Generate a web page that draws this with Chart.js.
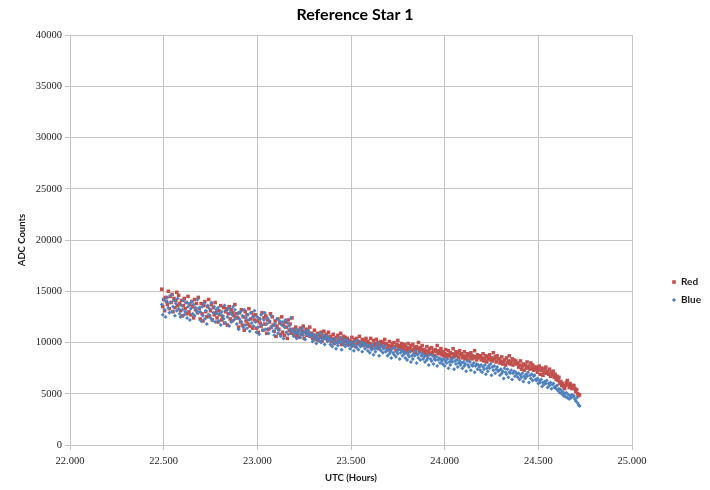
<!DOCTYPE html>
<html>
<head>
<meta charset="utf-8">
<script src="https://cdn.jsdelivr.net/npm/chart.js@4.4.1/dist/chart.umd.min.js"></script>
<style>
  html, body { margin: 0; padding: 0; background: #ffffff; }
  #wrap { width: 710px; height: 490px; position: relative; }
</style>
</head>
<body>
<div id="wrap"><canvas id="chart" width="710" height="490"></canvas></div>
<script>
// Sample times (UTC, hours), one reading every 18 s
const utcHours = [
  22.490, 22.495, 22.500, 22.505, 22.510, 22.515, 22.520, 22.525, 22.530, 22.535, 22.540, 22.545, 22.550, 22.555, 22.560, 22.565, 22.570, 22.575, 22.580, 22.585,
  22.590, 22.595, 22.600, 22.605, 22.610, 22.615, 22.620, 22.625, 22.630, 22.635, 22.640, 22.645, 22.650, 22.655, 22.660, 22.665, 22.670, 22.675, 22.680, 22.685,
  22.690, 22.695, 22.700, 22.705, 22.710, 22.715, 22.720, 22.725, 22.730, 22.735, 22.740, 22.745, 22.750, 22.755, 22.760, 22.765, 22.770, 22.775, 22.780, 22.785,
  22.790, 22.795, 22.800, 22.805, 22.810, 22.815, 22.820, 22.825, 22.830, 22.835, 22.840, 22.845, 22.850, 22.855, 22.860, 22.865, 22.870, 22.875, 22.880, 22.885,
  22.890, 22.895, 22.900, 22.905, 22.910, 22.915, 22.920, 22.925, 22.930, 22.935, 22.940, 22.945, 22.950, 22.955, 22.960, 22.965, 22.970, 22.975, 22.980, 22.985,
  22.990, 22.995, 23.000, 23.005, 23.010, 23.015, 23.020, 23.025, 23.030, 23.035, 23.040, 23.045, 23.050, 23.055, 23.060, 23.065, 23.070, 23.075, 23.080, 23.085,
  23.090, 23.095, 23.100, 23.105, 23.110, 23.115, 23.120, 23.125, 23.130, 23.135, 23.140, 23.145, 23.150, 23.155, 23.160, 23.165, 23.170, 23.175, 23.180, 23.185,
  23.190, 23.195, 23.200, 23.205, 23.210, 23.215, 23.220, 23.225, 23.230, 23.235, 23.240, 23.245, 23.250, 23.255, 23.260, 23.265, 23.270, 23.275, 23.280, 23.285,
  23.290, 23.295, 23.300, 23.305, 23.310, 23.315, 23.320, 23.325, 23.330, 23.335, 23.340, 23.345, 23.350, 23.355, 23.360, 23.365, 23.370, 23.375, 23.380, 23.385,
  23.390, 23.395, 23.400, 23.405, 23.410, 23.415, 23.420, 23.425, 23.430, 23.435, 23.440, 23.445, 23.450, 23.455, 23.460, 23.465, 23.470, 23.475, 23.480, 23.485,
  23.490, 23.495, 23.500, 23.505, 23.510, 23.515, 23.520, 23.525, 23.530, 23.535, 23.540, 23.545, 23.550, 23.555, 23.560, 23.565, 23.570, 23.575, 23.580, 23.585,
  23.590, 23.595, 23.600, 23.605, 23.610, 23.615, 23.620, 23.625, 23.630, 23.635, 23.640, 23.645, 23.650, 23.655, 23.660, 23.665, 23.670, 23.675, 23.680, 23.685,
  23.690, 23.695, 23.700, 23.705, 23.710, 23.715, 23.720, 23.725, 23.730, 23.735, 23.740, 23.745, 23.750, 23.755, 23.760, 23.765, 23.770, 23.775, 23.780, 23.785,
  23.790, 23.795, 23.800, 23.805, 23.810, 23.815, 23.820, 23.825, 23.830, 23.835, 23.840, 23.845, 23.850, 23.855, 23.860, 23.865, 23.870, 23.875, 23.880, 23.885,
  23.890, 23.895, 23.900, 23.905, 23.910, 23.915, 23.920, 23.925, 23.930, 23.935, 23.940, 23.945, 23.950, 23.955, 23.960, 23.965, 23.970, 23.975, 23.980, 23.985,
  23.990, 23.995, 24.000, 24.005, 24.010, 24.015, 24.020, 24.025, 24.030, 24.035, 24.040, 24.045, 24.050, 24.055, 24.060, 24.065, 24.070, 24.075, 24.080, 24.085,
  24.090, 24.095, 24.100, 24.105, 24.110, 24.115, 24.120, 24.125, 24.130, 24.135, 24.140, 24.145, 24.150, 24.155, 24.160, 24.165, 24.170, 24.175, 24.180, 24.185,
  24.190, 24.195, 24.200, 24.205, 24.210, 24.215, 24.220, 24.225, 24.230, 24.235, 24.240, 24.245, 24.250, 24.255, 24.260, 24.265, 24.270, 24.275, 24.280, 24.285,
  24.290, 24.295, 24.300, 24.305, 24.310, 24.315, 24.320, 24.325, 24.330, 24.335, 24.340, 24.345, 24.350, 24.355, 24.360, 24.365, 24.370, 24.375, 24.380, 24.385,
  24.390, 24.395, 24.400, 24.405, 24.410, 24.415, 24.420, 24.425, 24.430, 24.435, 24.440, 24.445, 24.450, 24.455, 24.460, 24.465, 24.470, 24.475, 24.480, 24.485,
  24.490, 24.495, 24.500, 24.505, 24.510, 24.515, 24.520, 24.525, 24.530, 24.535, 24.540, 24.545, 24.550, 24.555, 24.560, 24.565, 24.570, 24.575, 24.580, 24.585,
  24.590, 24.595, 24.600, 24.605, 24.610, 24.615, 24.620, 24.625, 24.630, 24.635, 24.640, 24.645, 24.650, 24.655, 24.660, 24.665, 24.670, 24.675, 24.680, 24.685,
  24.690, 24.695, 24.700, 24.705, 24.710, 24.715, 24.720
];

// Red channel ADC counts
const redCounts = [
  15200, 13500, 14200, 13100, 14400, 14000, 13700, 15000, 13300, 14500, 13900, 14700, 13000, 14300, 13400, 14100, 14900, 13600, 14600, 13800,
  13100, 14100, 12600, 13600, 14300, 13300, 13900, 12800, 14500, 13000, 13700, 12700, 14000, 13500, 12400, 14200, 13200, 13800, 12900, 14400,
  13300, 12300, 13800, 12800, 12100, 13600, 14000, 13000, 12500, 13500, 14200, 12600, 13100, 13700, 12200, 13400, 12700, 13900, 12900, 12400,
  12000, 13100, 12700, 13600, 12200, 12500, 13400, 11900, 13000, 13300, 11700, 12800, 13500, 12300, 13200, 12100, 12900, 12600, 13700, 12400,
  12800, 12400, 11500, 12900, 12000, 13200, 11700, 12500, 11200, 13000, 12100, 12700, 11800, 13300, 11600, 12300, 12900, 11400, 12600, 12200,
  12700, 11400, 12100, 11000, 12300, 11900, 11600, 12900, 11200, 12400, 11800, 12600, 10900, 12200, 11300, 12000, 12800, 11500, 12500, 11700,
  11100, 12100, 10600, 11600, 12300, 11300, 11900, 10800, 12500, 11000, 11700, 10700, 12000, 11500, 10400, 12200, 11200, 11800, 10900, 12400,
  11300, 10700, 11100, 11500, 10600, 10900, 11200, 10500, 11400, 10800, 11100, 11600, 10400, 11000, 11300, 10700, 11200, 10900, 11500, 10600,
  10900, 10400, 10700, 11200, 10300, 10600, 10900, 10200, 10800, 10500, 11000, 10100, 10700, 11100, 10400, 10600, 10800, 10300, 11000, 10500,
  10600, 10100, 10400, 10800, 9900, 10300, 10500, 10000, 10700, 10200, 10400, 10900, 9800, 10300, 10600, 10100, 10500, 9900, 10400, 10200,
  10200, 9800, 10100, 10500, 9700, 10000, 10300, 9600, 10400, 9900, 10100, 10600, 9800, 10000, 10300, 9700, 10200, 9900, 10400, 10000,
  10100, 9600, 9900, 10400, 9500, 9800, 10200, 9700, 9900, 10300, 9600, 10000, 9400, 9800, 10100, 9700, 10000, 9500, 10300, 9900,
  9800, 9400, 9700, 10100, 9300, 9600, 9900, 9500, 10000, 9600, 9200, 9800, 10200, 9500, 9700, 9400, 9900, 9600, 9300, 9800,
  9600, 9200, 9500, 9900, 9100, 9400, 9700, 9200, 9800, 9300, 9500, 9000, 9600, 9400, 10000, 9200, 9500, 9300, 9700, 9100,
  9300, 8900, 9200, 9600, 8800, 9100, 9400, 8900, 9500, 9000, 9200, 8700, 9300, 9100, 9700, 8900, 9200, 9000, 9400, 8800,
  9100, 8700, 8900, 9300, 8600, 8800, 9200, 8700, 9000, 8500, 8900, 9400, 8600, 8800, 9100, 8700, 9000, 8500, 9200, 8800,
  8900, 8500, 8700, 9100, 8400, 8600, 8900, 8300, 8800, 8600, 9000, 8400, 8700, 8500, 9200, 8600, 8300, 8800, 8500, 8700,
  8700, 8300, 8500, 8900, 8200, 8400, 8700, 8100, 8600, 8400, 8800, 8300, 8500, 8200, 9000, 8400, 8600, 8100, 8700, 8400,
  8400, 8000, 8200, 8600, 7900, 8100, 8300, 7800, 8500, 8000, 8200, 8700, 7900, 8100, 8400, 7800, 8300, 8000, 8200, 7900,
  8000, 7600, 7800, 8200, 7400, 7700, 7900, 7300, 7800, 7500, 8100, 7600, 7700, 7400, 8000, 7500, 7800, 7300, 7600, 7400,
  7600, 7100, 7400, 7700, 6900, 7300, 7500, 6800, 7100, 7400, 7600, 7000, 7200, 6900, 7400, 6700, 7100, 6800, 7200, 6600,
  6900, 6400, 6700, 6300, 6600, 6000, 6200, 5800, 6000, 5700, 5500, 5800, 6100, 6300, 5900, 5600, 6000, 5700, 5500, 5800,
  5800, 5500, 5200, 5400, 5000, 4800, 4900
];

// Blue channel ADC counts
const blueCounts = [
  13700, 12700, 14200, 13200, 12500, 14000, 14400, 13400, 12900, 13900, 14600, 13000, 13500, 14100, 12600, 13800, 13100, 14300, 13300, 12800,
  12500, 13600, 13200, 14100, 12700, 13000, 13900, 12400, 13500, 13800, 12200, 13300, 14000, 12800, 13700, 12600, 13400, 13100, 14200, 12900,
  13400, 13000, 12100, 13500, 12600, 13800, 12300, 13100, 11800, 13600, 12700, 13300, 12400, 13900, 12200, 12900, 13500, 12000, 13200, 12800,
  13400, 12100, 12800, 11700, 13000, 12600, 12300, 13600, 11900, 13100, 12500, 13300, 11600, 12900, 12000, 12700, 13500, 12200, 13200, 12400,
  11800, 12800, 11300, 12300, 13000, 12000, 12600, 11500, 13200, 11700, 12400, 11400, 12700, 12200, 11100, 12900, 11900, 12500, 11600, 13100,
  12000, 11000, 12500, 11500, 10800, 12300, 12700, 11700, 11200, 12200, 12900, 11300, 11800, 12400, 10900, 12100, 11400, 12600, 11600, 11100,
  10700, 11800, 11400, 12300, 10900, 11200, 12100, 10600, 11700, 12000, 10400, 11500, 12200, 11000, 11900, 10800, 11600, 11300, 12400, 11100,
  11100, 10600, 10900, 11300, 10400, 11000, 10800, 11200, 10500, 10900, 11400, 10700, 11000, 10300, 11100, 10800, 11200, 10600, 10900, 10700,
  10600, 10100, 10800, 10300, 10500, 9900, 10700, 10400, 10200, 10900, 10000, 10500, 10300, 10700, 9800, 10400, 10600, 10100, 10500, 10300,
  9800, 10300, 9600, 10100, 9900, 10400, 9400, 10000, 9700, 10200, 10000, 10500, 9300, 10100, 9800, 10300, 9600, 10000, 10200, 9700,
  9900, 9400, 10000, 9600, 9800, 9200, 10100, 9700, 9500, 10200, 9300, 9800, 9600, 10000, 9100, 9700, 9900, 9400, 9800, 9600,
  9200, 9700, 9000, 9500, 9300, 9800, 8800, 9400, 9100, 9600, 9400, 9900, 8700, 9500, 9200, 9700, 9000, 9400, 9600, 9100,
  9200, 8700, 9300, 8900, 9100, 8500, 9400, 9000, 8800, 9500, 8600, 9100, 8900, 9300, 8400, 9000, 9200, 8700, 9100, 8900,
  8500, 9000, 8300, 8800, 8600, 9100, 8100, 8700, 8400, 8900, 8700, 9200, 8000, 8800, 8500, 9000, 8300, 8700, 8900, 8400,
  8600, 8100, 8700, 8300, 8500, 7800, 8800, 8400, 8200, 8700, 7900, 8400, 8300, 8600, 7700, 8300, 8500, 8000, 8400, 8200,
  7900, 8400, 7700, 8200, 8000, 8400, 7500, 8100, 7800, 8300, 8100, 8500, 7400, 8200, 7900, 8300, 7600, 8000, 8200, 7800,
  8000, 7500, 8100, 7700, 7900, 7200, 8200, 7800, 7600, 8100, 7300, 7800, 7700, 8000, 7100, 7700, 7900, 7400, 7800, 7600,
  7300, 7800, 7100, 7600, 7400, 7800, 6900, 7500, 7200, 7700, 7500, 7900, 6800, 7600, 7300, 7700, 7000, 7400, 7600, 7200,
  7300, 6800, 7400, 7000, 7200, 6500, 7500, 7100, 6900, 7400, 6600, 7100, 7000, 7300, 6400, 7000, 7200, 6700, 7100, 6900,
  6600, 7000, 6400, 6800, 6600, 7000, 6200, 6700, 6500, 6900, 6700, 7100, 6100, 6800, 6500, 6900, 6300, 6700, 6800, 6400,
  6300, 6500, 6000, 6300, 6100, 6400, 5700, 6100, 5900, 6200, 6000, 6300, 5600, 6000, 5800, 6100, 5500, 5900, 6000, 5600,
  5700, 5500, 5800, 5300, 5500, 5100, 5400, 5000, 5200, 4800, 5000, 4700, 5100, 4600, 4900, 4500, 4800, 4600, 4900, 4700,
  4800, 4500, 4300, 4600, 4100, 3900, 3800
];

const seriesNames = ['Red', 'Blue'];
const chartTitle = 'Reference Star 1';
const xTicks = [22, 22.5, 23, 23.5, 24, 24.5, 25];
const yTicks = [0, 5000, 10000, 15000, 20000, 25000, 30000, 35000, 40000];

const RED = '#C0504D';
const BLUE = '#4F81BD';
const GRID = '#c4c4c4';
const TICK_FONT = { family: '"Liberation Serif", "Times New Roman", serif', size: 10.5 };
const LABEL_FONT = { family: 'Lato, "Open Sans", sans-serif', size: 9.5, weight: 'bold' };

const toPoints = (ys) => ys.map((y, i) => ({ x: utcHours[i], y: y }));

// Title centred on the whole canvas, legend at the right edge
const frame = {
  id: 'frame',
  afterDraw(chart) {
    const ctx = chart.ctx;
    ctx.save();
    ctx.fillStyle = '#000000';
    ctx.font = 'bold 16px Lato, "Open Sans", sans-serif';
    ctx.textAlign = 'center';
    ctx.textBaseline = 'middle';
    ctx.fillText(chartTitle, chart.width / 2, 15);

    const rows = [
      { ds: chart.data.datasets[1], y: 282 },
      { ds: chart.data.datasets[0], y: 300 }
    ];
    rows.forEach(r => {
      const mx = 674;
      ctx.fillStyle = r.ds.backgroundColor;
      ctx.beginPath();
      if (r.ds.pointStyle === 'rect') {
        ctx.rect(mx - 1.8, r.y - 1.8, 3.6, 3.6);
      } else {
        ctx.moveTo(mx, r.y - 2.1);
        ctx.lineTo(mx + 2.1, r.y);
        ctx.lineTo(mx, r.y + 2.1);
        ctx.lineTo(mx - 2.1, r.y);
        ctx.closePath();
      }
      ctx.fill();
      ctx.fillStyle = '#1a1a1a';
      ctx.font = 'bold 10px Lato, "Open Sans", sans-serif';
      ctx.textAlign = 'left';
      ctx.fillText(r.ds.label, 681, r.y);
    });
    ctx.restore();
  }
};

new Chart(document.getElementById('chart'), {
  type: 'scatter',
  data: {
    datasets: [
      {
        label: seriesNames[1],
        data: toPoints(blueCounts),
        pointStyle: 'rectRot',
        pointRadius: 2.0,
        pointHoverRadius: 2.0,
        backgroundColor: BLUE,
        borderWidth: 0,
        order: 1
      },
      {
        label: seriesNames[0],
        data: toPoints(redCounts),
        pointStyle: 'rect',
        pointRadius: 2.5,
        pointHoverRadius: 2.5,
        backgroundColor: RED,
        borderWidth: 0,
        order: 2
      }
    ]
  },
  options: {
    responsive: false,
    animation: false,
    events: [],
    layout: { padding: { left: 0, right: 78, top: 35, bottom: 0 } },
    plugins: {
      legend: { display: false },
      tooltip: { enabled: false },
      title: { display: false }
    },
    scales: {
      x: {
        type: 'linear',
        min: 22,
        max: 25,
        afterBuildTicks: (s) => { s.ticks = xTicks.map(v => ({ value: v })); },
        afterFit: (s) => { s.height = 45; },
        ticks: {
          color: '#222222',
          font: TICK_FONT,
          padding: 5,
          maxRotation: 0,
          callback: (v) => Number(v).toFixed(3)
        },
        grid: { color: GRID, lineWidth: 1, tickLength: 5, tickColor: GRID },
        border: { color: GRID, width: 1 },
        title: {
          display: true,
          text: 'UTC (Hours)',
          color: '#1a1a1a',
          font: LABEL_FONT,
          padding: { top: 0, bottom: 6 }
        }
      },
      y: {
        type: 'linear',
        min: 0,
        max: 40000,
        afterBuildTicks: (s) => { s.ticks = yTicks.map(v => ({ value: v })); },
        afterFit: (s) => { s.width = 70; },
        ticks: {
          color: '#222222',
          font: TICK_FONT,
          padding: 3,
          callback: (v) => String(v)
        },
        grid: { color: GRID, lineWidth: 1, tickLength: 5, tickColor: GRID },
        border: { color: GRID, width: 1 },
        title: {
          display: true,
          text: 'ADC Counts',
          color: '#1a1a1a',
          font: LABEL_FONT,
          padding: { top: 16, bottom: 0 }
        }
      }
    }
  },
  plugins: [frame]
});
</script>
</body>
</html>
